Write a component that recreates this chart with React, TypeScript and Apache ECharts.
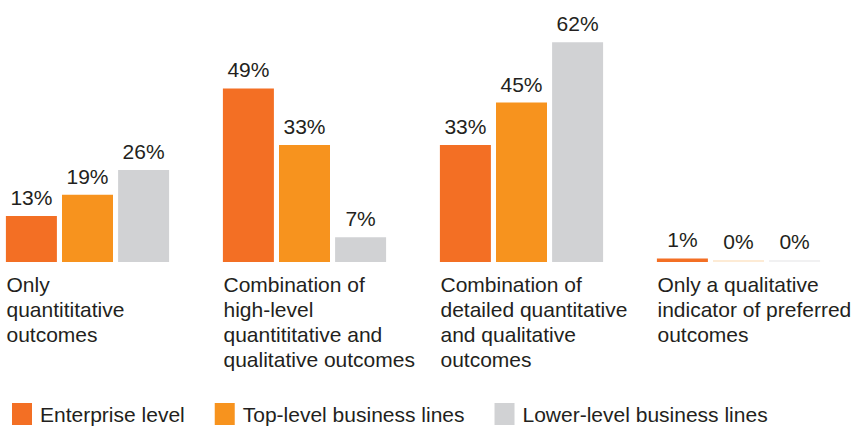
import React, { useEffect, useRef } from "react";
import * as echarts from "echarts";

const categories = [
  "Only\nquantititative\noutcomes",
  "Combination of\nhigh-level\nquantititative and\nqualitative outcomes",
  "Combination of\ndetailed quantitative\nand qualitative\noutcomes",
  "Only a qualitative\nindicator of preferred\noutcomes",
];
const seriesNames = ["Enterprise level", "Top-level business lines", "Lower-level business lines"];
const enterprise = [13, 49, 33, 1];
const topLevel = [19, 33, 45, 0];
const lowerLevel = [26, 7, 62, 0];
const colors = ["#F36F24", "#F7931E", "#D1D2D4"];
const zeroColors = ["#FCE3D3", "#FDEBD5", "#F1F1F2"];

export default function App() {
  const ref = useRef<HTMLDivElement>(null);
  useEffect(() => {
    const chart = echarts.init(ref.current!, null, { renderer: "svg" });
    const font = "'Liberation Sans', Arial, Helvetica, sans-serif";
    const textColor = "#231F20";
    const values = [enterprise, topLevel, lowerLevel];
    chart.setOption({
      animation: false,
      textStyle: { fontFamily: font },
      grid: [
        { left: -21, width: 868, top: 14, height: 248, outerBoundsMode: "none", containLabel: false },
        { left: -102, width: 868, top: 14, height: 248, outerBoundsMode: "none", containLabel: false },
      ],
      legend: {
        left: 12,
        top: 403,
        padding: 0,
        itemWidth: 20,
        itemHeight: 22,
        itemGap: 30,
        icon: "rect",
        textStyle: {
          fontSize: 21,
          color: textColor,
          fontFamily: font,
          padding: [0, 0, 0, 3],
        },
        data: seriesNames,
      },
      xAxis: [
        {
          type: "category",
          gridIndex: 0,
          data: categories,
          axisLine: { show: false },
          axisTick: { show: false },
          axisLabel: { show: false },
        },
        {
          type: "category",
          gridIndex: 1,
          data: categories,
          axisLine: { show: false },
          axisTick: { show: false },
          axisLabel: {
            show: true,
            interval: 0,
            align: "left",
            verticalAlign: "top",
            margin: 10,
            fontSize: 21,
            lineHeight: 25,
            color: textColor,
            fontFamily: font,
          },
        },
      ],
      yAxis: [
        { type: "value", gridIndex: 0, min: 0, max: 70, show: false },
        { type: "value", gridIndex: 1, min: 0, max: 70, show: false },
      ],
      series: values.map((v, i) => ({
        name: seriesNames[i],
        type: "bar",
        xAxisIndex: 0,
        yAxisIndex: 0,
        data: v.map((d) =>
          d === 0 ? { value: d, itemStyle: { color: zeroColors[i] } } : d
        ),
        barWidth: 51,
        barGap: "10%",
        barMinHeight: 2,
        itemStyle: { color: colors[i] },
        label: {
          show: true,
          position: "top",
          distance: 8,
          formatter: "{c}%",
          fontSize: 21,
          color: textColor,
          fontFamily: font,
        },
      })),
    });
    return () => chart.dispose();
  }, []);
  return (
    <div
      ref={ref}
      style={{ position: "absolute", left: 0, top: 0, width: 857, height: 426 }}
    />
  );
}
